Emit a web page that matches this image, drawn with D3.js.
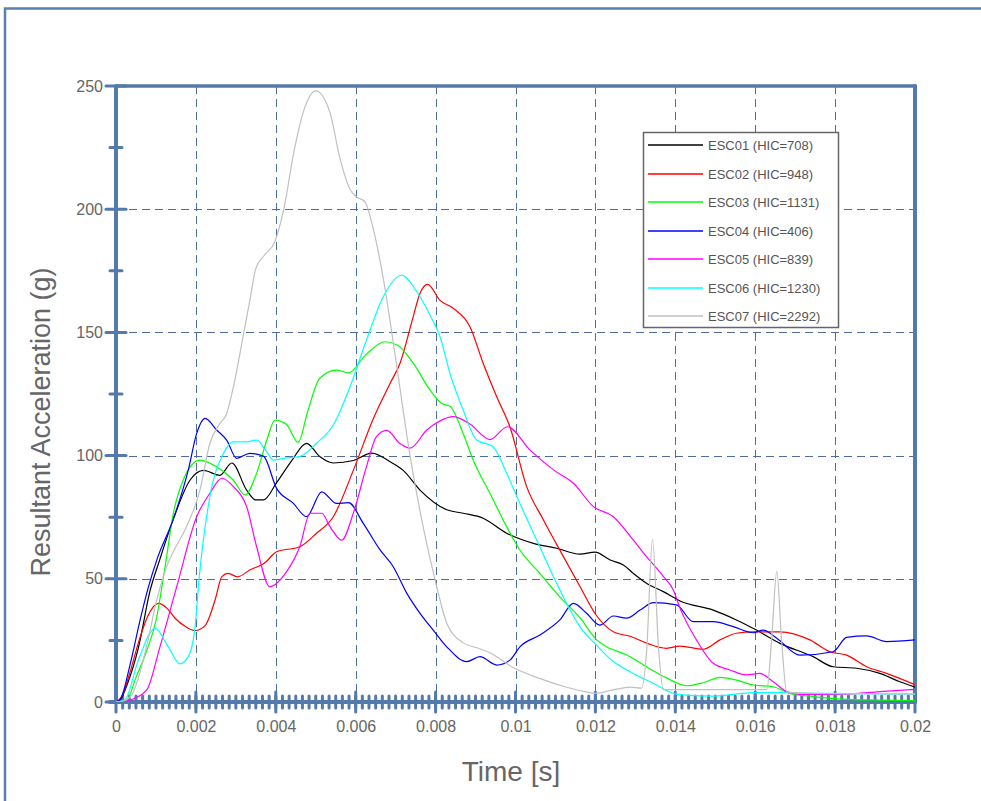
<!DOCTYPE html>
<html lang="en">
<head>
<meta charset="UTF-8">
<title>Resultant Acceleration</title>
<script src="https://d3js.org/d3.v7.min.js"></script>
<style>
  body { margin: 0; background: #fff; }
  svg text { font-family: "Liberation Sans", Arial, sans-serif; }
</style>
</head>
<body>
<div id="output"></div>
<script>
  // time in ms, acceleration in g
  const esc01 = [[0,0],[0.1,0.8],[0.3,8],[0.56,22],[0.85,45],[1.1,58],[1.43,74],[1.85,90],[2.19,94],[2.6,92],[2.9,97],[3.27,86],[3.5,82],[3.69,82],[4.02,89],[4.4,98],[4.77,105],[5.1,99.6],[5.44,97],[5.94,98],[6.4,101],[6.86,97.5],[7.19,94],[7.61,86],[8.28,78],[8.69,76.6],[9.19,74.6],[9.78,68.5],[10.45,64.4],[11.03,62.4],[11.61,60],[11.99,60.8],[12.37,57.6],[12.7,55.6],[12.95,52.2],[13.28,48.2],[13.7,44.8],[14.12,41],[14.95,37.3],[15.53,33.3],[16.03,29.2],[16.62,23.8],[17.45,18.4],[17.95,14.3],[18.54,13.7],[19.12,11.6],[19.62,8.2],[20,6]];
  const esc02 = [[0,0],[0.14,2.2],[0.35,12],[0.56,24],[0.8,35],[1.06,40],[1.28,38],[1.48,34],[1.75,30.5],[1.98,29],[2.23,31],[2.48,41.4],[2.65,50.9],[2.81,52.2],[3.04,50.8],[3.35,53.6],[3.73,56.5],[4.02,61],[4.6,63],[5.02,68.5],[5.44,75.2],[5.94,94],[6.44,115],[6.86,129.3],[7.11,137.5],[7.44,156.4],[7.61,165.9],[7.8,169.5],[8.11,163],[8.44,159.8],[8.86,152.3],[9.19,137.5],[9.53,123.9],[9.86,111.7],[10.28,87.4],[10.7,73.9],[11.2,59],[11.61,47],[12.03,35],[12.45,28.5],[12.9,26.5],[13.3,23.8],[13.78,21.8],[14.12,22.7],[14.7,21.4],[15.12,25.2],[15.53,27.9],[15.95,28.5],[16.62,28.5],[17.37,25.2],[17.87,20.4],[18.29,19],[18.79,14.3],[19.29,11.6],[20,7]];
  const esc03 = [[0,0],[0.27,0.8],[0.5,10],[0.75,20],[1.0,33],[1.23,55],[1.43,76],[1.68,90],[2.1,98.2],[2.52,95.5],[2.94,90],[3.23,84],[3.52,92.8],[3.77,106],[3.98,114.4],[4.27,112.6],[4.56,105.4],[4.8,118],[5.1,131.4],[5.52,134.7],[5.82,133.6],[6.27,141.2],[6.73,146.2],[7.05,144.8],[7.44,137.5],[7.86,126.6],[8.15,121.2],[8.36,120],[8.69,109],[8.94,98.2],[9.36,84.7],[9.78,71.1],[10.11,61.7],[10.61,52.2],[11.11,42.7],[11.61,34.3],[12.03,25.2],[12.28,22.4],[12.8,19],[13.28,14.3],[13.78,9.8],[14.28,6.6],[14.7,7.8],[15.12,10],[15.53,8.9],[15.95,6.9],[16.45,6.2],[16.87,3.5],[17.45,2.2],[18.29,1.1],[19.12,0.8],[20,0.5]];
  const esc04 = [[0,0],[0.1,0.8],[0.35,15],[0.6,33],[0.8,46],[1.02,57.6],[1.43,74],[1.81,94.2],[2.02,109],[2.23,115.1],[2.52,110.4],[2.77,106.3],[3.02,98.9],[3.35,100.9],[3.69,99.8],[4.02,86.7],[4.44,80.6],[4.77,75.2],[5.15,85.3],[5.52,80.6],[5.82,80.9],[6.19,72.5],[6.61,61.7],[6.94,54.9],[7.28,44.1],[7.61,36],[7.94,29.2],[8.28,22.4],[8.78,16.4],[9.11,18.4],[9.53,15],[9.86,17],[10.11,22.4],[10.61,27.2],[11.11,33.3],[11.45,40],[11.78,36],[12.11,31.2],[12.45,34.9],[12.78,34],[13.12,37.3],[13.45,40.3],[14.03,39.4],[14.45,32.6],[14.95,32.6],[15.45,30.6],[15.95,28.1],[16.2,29.2],[16.54,25.9],[17.12,19],[17.95,20.4],[18.29,26.2],[18.79,26.8],[19.29,24.5],[20,25.2]];
  const esc05 = [[0,0],[0.35,0.8],[0.77,4.9],[1.1,22.4],[1.52,46.8],[2.02,75.2],[2.35,84.7],[2.65,90.8],[2.94,87.4],[3.27,79.3],[3.52,63],[3.85,46.8],[4.27,52.9],[4.6,63],[4.86,76.6],[5.15,76.6],[5.36,71.1],[5.65,65.7],[5.94,76.6],[6.27,95.5],[6.52,107.7],[6.78,110.2],[7.1,105],[7.36,103],[7.78,110.4],[8.1,114],[8.44,115.8],[8.86,112.8],[9.36,106.5],[9.8,111.7],[10.36,102.3],[10.95,94.2],[11.45,88.8],[11.95,79.3],[12.45,75.2],[12.95,65.7],[13.28,59],[13.7,51],[13.95,45.5],[14.12,38],[14.53,25.2],[14.95,15.7],[15.37,13],[15.78,11],[16.12,11.6],[16.45,8.2],[16.79,4.2],[17.12,3.1],[18.29,3.2],[19.12,4.2],[20,5.1]];
  const esc06 = [[0,0],[0.22,0.8],[0.56,17],[0.98,29.9],[1.31,22.4],[1.6,15.5],[1.81,18.4],[1.98,30.6],[2.08,50],[2.35,83.3],[2.69,100.9],[2.94,105.6],[3.27,105.6],[3.52,106.3],[3.77,101.6],[3.94,98.2],[4.19,98.9],[4.6,99.6],[5.02,105],[5.44,112.4],[5.86,128],[6.27,146.9],[6.69,164.5],[7.15,173.2],[7.55,166],[7.9,155.7],[8.11,148.3],[8.36,133.4],[8.69,118.5],[9.03,106.3],[9.44,103.6],[9.78,92.8],[10.11,80.6],[10.53,65.7],[10.95,50.9],[11.28,40],[11.61,30.6],[12.03,23],[12.45,16.4],[12.95,11.6],[13.45,7.6],[13.95,3.5],[14.28,2.8],[14.95,2.4],[15.95,3.8],[16.62,3.8],[17.45,3.5],[20,3.2]];
  const esc07 = [[0,0],[0.2,0.5],[0.4,3],[0.6,12],[0.8,25],[1.0,40],[1.27,55],[1.5,63],[1.7,69],[2.1,86],[2.35,105],[2.6,113],[2.77,117],[2.94,128],[3.2,150],[3.35,163],[3.5,176],[3.7,181],[3.98,187],[4.2,200],[4.45,223],[4.7,240],[5.0,248],[5.36,239],[5.6,221],[5.86,208],[6.02,205],[6.23,203],[6.44,192],[6.7,171],[7.03,136],[7.36,100],[7.69,71],[7.98,50],[8.28,32],[8.69,24],[9.03,22],[9.36,20],[9.94,14],[10.6,9.6],[11.28,6],[11.8,4],[12.0,3.5],[12.45,4.9],[12.87,6],[13.15,5.6],[13.28,20],[13.43,66],[13.58,22],[13.7,5],[14.1,5],[15,5],[16,5],[16.29,5],[16.41,25],[16.54,53],[16.66,25],[16.79,4],[17.5,3.5],[20,3.2]];

  const seriesData = [esc01, esc02, esc03, esc04, esc05, esc06, esc07];
  const seriesNames = ["ESC01 (HIC=708)", "ESC02 (HIC=948)", "ESC03 (HIC=1131)", "ESC04 (HIC=406)",
                       "ESC05 (HIC=839)", "ESC06 (HIC=1230)", "ESC07 (HIC=2292)"];
  const seriesColors = ["#000000", "#ff0000", "#00ff00", "#0000ff", "#ff00ff", "#00ffff", "#c0c0c0"];

  const xTicks = [0, 0.002, 0.004, 0.006, 0.008, 0.01, 0.012, 0.014, 0.016, 0.018, 0.02];
  const yTicks = [0, 50, 100, 150, 200, 250];
  const yMinorTicks = [25, 75, 125, 175, 225];

  const axisColor = "#5479ab";
  const gridColor = "#4d6d9c";
  const textColor = "#666666";

  const svg = d3.select("#output").append("svg")
    .attr("width", 981).attr("height", 801);

  // outer frame
  svg.append("path")
    .attr("d", "M5,801V8.5H981")
    .attr("fill", "none")
    .attr("stroke", "#5b80b4")
    .attr("stroke-width", 2.5);

  const pL = 116, pR = 915, pT = 86, pB = 702;
  const x = d3.scaleLinear().domain([0, 0.02]).range([pL, pR]);
  const y = d3.scaleLinear().domain([0, 250]).range([pB, pT]);

  // grid
  const grid = svg.append("g")
    .attr("stroke", gridColor).attr("stroke-width", 1)
    .attr("stroke-dasharray", "8,5").attr("fill", "none");
  grid.selectAll(".vg").data(xTicks.slice(1, -1)).join("line")
    .attr("x1", d => Math.round(x(d)) + 0.5).attr("x2", d => Math.round(x(d)) + 0.5)
    .attr("y1", pT).attr("y2", pB);
  grid.selectAll(".hg").data(yTicks.slice(1, -1)).join("line")
    .attr("y1", d => Math.round(y(d)) + 0.5).attr("y2", d => Math.round(y(d)) + 0.5)
    .attr("x1", pL).attr("x2", pR);

  svg.append("clipPath").attr("id", "plotclip")
    .append("rect").attr("x", pL).attr("y", pT - 2)
    .attr("width", pR - pL).attr("height", pB - pT + 2);

  const line = d3.line()
    .x(d => x(d[0] / 1000))
    .y(d => y(d[1]))
    .curve(d3.curveMonotoneX);

  // axis box
  const ax = svg.append("g").attr("stroke", axisColor).attr("stroke-linecap", "round");
  ax.append("line").attr("x1", pL).attr("x2", pL).attr("y1", pT).attr("y2", pB).attr("stroke-width", 4);
  ax.append("line").attr("x1", pR).attr("x2", pR).attr("y1", pT).attr("y2", pB).attr("stroke-width", 4);
  ax.append("line").attr("x1", pL).attr("x2", pR).attr("y1", pT).attr("y2", pT).attr("stroke-width", 3.5);
  ax.append("line").attr("x1", pL - 6).attr("x2", pR).attr("y1", pB).attr("y2", pB).attr("stroke-width", 4);

  const xMinor = d3.range(1, 120).map(i => i * 0.02 / 120);
  ax.selectAll(".xm").data(xMinor).join("line")
    .attr("x1", d => x(d)).attr("x2", d => x(d))
    .attr("y1", pB - 6).attr("y2", pB + 6).attr("stroke-width", 3);
  ax.selectAll(".xM").data(xTicks).join("line")
    .attr("x1", d => x(d)).attr("x2", d => x(d))
    .attr("y1", pB - 10).attr("y2", pB + 10).attr("stroke-width", 3);
  ax.selectAll(".ym").data(yMinorTicks).join("line")
    .attr("y1", d => y(d)).attr("y2", d => y(d))
    .attr("x1", pL - 6).attr("x2", pL + 6).attr("stroke-width", 3);
  ax.selectAll(".yM").data(yTicks).join("line")
    .attr("y1", d => y(d)).attr("y2", d => y(d))
    .attr("x1", pL - 10).attr("x2", pL + 10).attr("stroke-width", 3);

  const curves = svg.append("g").attr("clip-path", "url(#plotclip)");
  curves.selectAll("path").data(seriesData).join("path")
    .attr("d", line)
    .attr("fill", "none")
    .attr("stroke", (d, i) => seriesColors[i])
    .attr("stroke-width", 1.2);

  // tick labels
  const xAxis = svg.append("g")
    .attr("transform", `translate(0,${pB})`)
    .call(d3.axisBottom(x).tickValues(xTicks).tickSize(0).tickPadding(18.5)
      .tickFormat(d => String(+d.toFixed(4))));
  xAxis.select(".domain").remove();
  xAxis.selectAll("text").attr("fill", textColor).attr("font-size", 16)
    .attr("font-family", "Liberation Sans, Arial, sans-serif");

  const yAxis = svg.append("g")
    .attr("transform", `translate(${pL},0)`)
    .call(d3.axisLeft(y).tickValues(yTicks).tickSize(0).tickPadding(13));
  yAxis.select(".domain").remove();
  yAxis.selectAll("text").attr("fill", textColor).attr("font-size", 16)
    .attr("font-family", "Liberation Sans, Arial, sans-serif");

  // axis titles
  svg.append("text")
    .attr("x", 511).attr("y", 781)
    .attr("text-anchor", "middle")
    .attr("font-size", 28).attr("fill", textColor)
    .text("Time [s]");
  svg.append("text")
    .attr("transform", "translate(50,422) rotate(-90)")
    .attr("text-anchor", "middle")
    .attr("font-size", 27).attr("fill", textColor)
    .text("Resultant Acceleration (g)");

  // legend
  const lg = svg.append("g");
  lg.append("rect")
    .attr("x", 643.5).attr("y", 132.5).attr("width", 195).attr("height", 195)
    .attr("fill", "#fff").attr("stroke", "#666").attr("stroke-width", 1.5);
  const rows = lg.selectAll(".row").data(seriesNames).join("g")
    .attr("class", "row")
    .attr("transform", (d, i) => `translate(0,${Math.round(145 + i * 28.5)})`);
  rows.append("line")
    .attr("x1", 648).attr("x2", 703).attr("y1", 0).attr("y2", 0)
    .attr("stroke", d => seriesColors[seriesNames.indexOf(d)]).attr("stroke-width", 1.6);
  rows.append("text")
    .attr("x", 708).attr("y", 0).attr("dy", "0.35em")
    .attr("font-size", 13).attr("fill", "#555")
    .text(d => d);
</script>
</body>
</html>
